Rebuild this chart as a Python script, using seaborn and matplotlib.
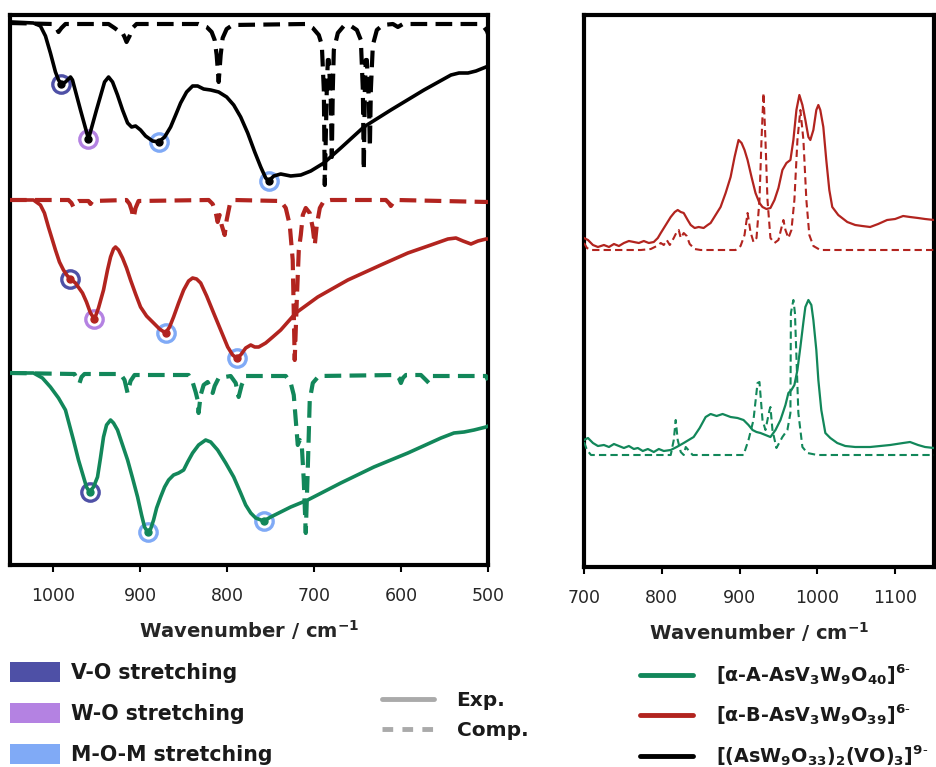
import matplotlib
matplotlib.use("Agg")
import matplotlib.pyplot as plt
from matplotlib.patches import Patch
from matplotlib.lines import Line2D
import seaborn as sns

# ---------------- data ----------------
# IR panel: wavenumber (cm-1) and offset transmittance (arb. units)
ir_black_exp_wn = [1050, 1047.2, 1023, 1015, 1009.2, 1003.5, 997.7, 994.2, 990.8, 986.2, 980.4, 978.1, 968.9,
                   959.7, 950.5, 941.2, 936.6, 932, 926.3, 920.5, 914.7, 910.1, 905.5, 899.8, 894, 885.9, 879,
                   872.1, 865.2, 859.4, 853.7, 846.8, 839.9, 834.1, 827.2, 819.1, 809.9, 800.7, 792.6, 784.6,
                   776.5, 768.4, 761.5, 755.8, 752.3, 746.5, 738.5, 727, 715.4, 703.9, 688.9, 669.4, 642.9,
                   611.8, 573.7, 542.6, 533.4, 523, 513.8, 502.3, 500]
ir_black_exp_t = [543, 543, 542, 539, 529, 512, 493, 485, 481, 483, 488, 485, 455,
                  426, 455, 483, 488, 483, 470, 455, 442, 438, 439, 435, 429, 424, 423,
                  428, 438, 450, 462, 473, 479, 479, 476, 475, 473, 468, 460, 448,
                  432, 413, 398, 387, 384, 389, 391, 389, 390, 394, 402, 417, 438,
                  455, 475, 490, 492, 492, 494, 498, 499]

ir_black_comp_wn = [1050, 1001, 996.5, 994.2, 990.8, 986.2, 936.6, 929.7, 925.1, 921.7, 918.2, 915.9, 912.4,
                    909, 904.4, 833, 823.7, 818, 814.5, 812.2, 809.9, 807.6, 805.3, 800.7, 793.8, 709.7,
                    701.6, 694.7, 691.2, 688.9, 687.8, 685.5, 684.3, 683.2, 680.9, 679.7, 678.6, 677.4, 672.8,
                    666, 657.8, 650.9, 646.3, 644, 642.9, 641.7, 640.6, 639.4, 637.1, 635.9, 634.8, 632.5,
                    627.9, 621, 609.4, 603.7, 597.9, 510.4, 504.6, 501.2, 500]
ir_black_comp_t = [542, 541, 537, 533, 537, 541, 541, 537, 534, 534, 528, 523, 529,
                   537, 541, 541, 538, 533, 525, 510, 483, 510, 527, 536, 540, 541,
                   537, 530, 520, 475, 380, 475, 505, 505, 465, 408, 475, 515, 532,
                   539, 539, 535, 525, 475, 395, 475, 505, 505, 465, 418, 475, 520,
                   535, 540, 541, 538, 541, 541, 538, 534, 531]

ir_red_exp_wn = [1050, 1047.2, 1023, 1015, 1010.4, 1005.8, 1001.2, 997.7, 993.1, 988.5, 983.9, 980.4, 974.7,
                 966.6, 962, 957.4, 952.8, 948.2, 942.4, 937.8, 934.3, 930.9, 928.6, 925.1, 920.5, 915.9,
                 911.3, 905.5, 899.8, 892.9, 884.8, 877.9, 871, 866.4, 861.8, 856, 850.2, 844.5, 839.9,
                 835.3, 830.6, 823.7, 815.7, 807.6, 799.5, 793.8, 789.2, 784.6, 778.8, 773, 768.4, 763.8,
                 755.8, 747.7, 738.5, 721.2, 695.9, 661.3, 623.3, 592.2, 565.7, 546.1, 536.9, 528.8,
                 519.6, 511.5, 502.3, 500]
ir_red_exp_t = [365, 365, 365, 360, 352, 338, 325, 315, 303, 295, 289, 286, 282,
                272, 263, 252, 246, 257, 275, 295, 308, 316, 318, 315, 307, 297,
                285, 271, 258, 249, 242, 236, 232, 238, 248, 262, 275, 284, 287,
                286, 282, 269, 252, 235, 218, 210, 207, 210, 217, 220, 218, 218,
                222, 228, 235, 252, 268, 285, 300, 312, 320, 326, 327, 324,
                321, 324, 326, 326]

ir_red_comp_wn = [1050, 982.7, 979.3, 977, 974.7, 971.2, 959.7, 957.4, 955.1, 915.9, 912.4, 910.1, 907.8,
                  905.5, 902.1, 821.4, 816.8, 813.4, 811.1, 808.8, 806.5, 803, 800.7, 797.2, 792.6, 738.5,
                  732.7, 728.1, 724.7, 722.4, 720.0, 717.7, 715.4, 713.1, 709.7, 705.1, 701.6, 699.3, 697,
                  693.5, 688.9, 680.9, 617.5, 614.1, 611.8, 609.4, 604.8, 500]
ir_red_comp_t = [365, 365, 362, 358, 362, 364, 364, 361, 364, 365, 361, 355, 347,
                 357, 364, 365, 361, 353, 343, 350, 340, 330, 345, 360, 365, 364,
                 357, 340, 305, 205, 265, 315, 330, 350, 357, 352, 337, 320, 340,
                 357, 364, 365, 365, 362, 359, 362, 365, 363]

ir_green_exp_wn = [1050, 1047.2, 1023, 1012.7, 1003.5, 994.2, 986.2, 981.6, 977, 971.2, 965.4, 962, 958.5,
                   953.9, 949.3, 945.9, 942.4, 938.9, 934.3, 930.9, 926.3, 920.5, 914.7, 909, 903.2, 898.6,
                   895.2, 891.7, 888.2, 884.8, 881.3, 876.7, 872.1, 867.5, 861.8, 856, 850.2, 845.6, 839.9,
                   833, 824.9, 819.1, 811.1, 801.8, 792.6, 784.6, 778.8, 773, 767.3, 758.1, 750, 727, 707.4,
                   669.4, 631.3, 592.2, 554.1, 539.2, 527.6, 516.1, 502.3, 500]
ir_green_exp_t = [192, 192, 192, 187, 178, 167, 155, 140, 125, 105, 88, 78, 73,
                  78, 88, 107, 128, 140, 145, 142, 135, 120, 105, 87, 68, 50,
                  38, 33, 36, 45, 57, 68, 78, 85, 90, 92, 95, 103, 112,
                  120, 125, 123, 115, 102, 88, 72, 60, 52, 47, 44, 48, 58, 65,
                  82, 98, 112, 127, 132, 133, 135, 138, 139]

ir_green_comp_wn = [1050, 975.8, 972.4, 970, 967.7, 964.3, 922.8, 918.2, 914.7, 911.3, 906.7, 844.5, 839.9,
                    836.4, 834.1, 833, 830.6, 827.2, 822.6, 819.1, 816.8, 814.5, 809.9, 796.1, 790.3, 786.9,
                    783.4, 778.8, 732.7, 727, 723.5, 721.2, 718.9, 716.6, 714.3, 712, 709.7, 707.4, 705.1,
                    701.6, 694.7, 606, 602.5, 600.2, 597.9, 594.5, 577.2, 571.4, 568, 563.4, 502.3, 500]
ir_green_comp_t = [192, 191, 185, 182, 188, 191, 191, 185, 172, 184, 190, 190, 183,
                   173, 165, 152, 170, 180, 183, 177, 172, 179, 187, 189, 182, 168,
                   180, 189, 189, 182, 170, 145, 120, 125, 120, 85, 32, 95, 165,
                   182, 189, 190, 187, 182, 187, 190, 190, 185, 182, 189, 189, 185]

ir_black_marks_wn = [990.8, 959.7, 879, 752.3]
ir_black_marks_t = [481, 426, 423, 384]
ir_black_marks_mode = ["V-O", "W-O", "M-O-M", "M-O-M"]
ir_red_marks_wn = [980.4, 952.8, 871, 789.2]
ir_red_marks_t = [286, 246, 232, 207]
ir_red_marks_mode = ["V-O", "W-O", "M-O-M", "M-O-M"]
ir_green_marks_wn = [958.5, 891.7, 758.1]
ir_green_marks_t = [73, 33, 44]
ir_green_marks_mode = ["V-O", "M-O-M", "M-O-M"]

# Raman panel
ra_red_exp_wn = [700, 705.1, 711.5, 717.9, 725.6, 732.1, 738.5, 744.9, 751.3, 757.7, 764.1, 770.5, 776.9,
                 783.3, 789.7, 794.9, 798.7, 805.1, 811.5, 816.7, 820.5, 824.4, 828.2, 833.3, 837.2, 842.3,
                 847.4, 853.8, 859, 862.8, 869.2, 875.6, 882.1, 888.5, 893.6, 898.7, 902.6, 906.4, 910.3,
                 915.4, 920.5, 925.6, 929.5, 934.6, 939.7, 944.9, 950, 955.1, 960.3, 965.4, 969.2, 973.1,
                 976.9, 980.8, 984.6, 988.5, 991, 994.9, 998.7, 1001.3, 1003.8, 1007.7, 1011.5, 1015.4,
                 1019.2, 1026.9, 1038.5, 1048.7, 1057.7, 1067.9, 1078.2, 1089.7, 1100, 1110.3, 1119.2,
                 1129.5, 1138.5, 1150]
ra_red_exp_t = [327, 325, 320, 318, 320, 318, 321, 319, 322, 324, 323, 322, 324,
                322, 323, 327, 332, 340, 348, 353, 355, 353, 352, 345, 340, 337,
                338, 337, 340, 342, 350, 358, 372, 388, 408, 425, 422, 415, 405,
                388, 372, 362, 358, 356, 357, 365, 377, 395, 402, 405, 425, 455,
                470, 460, 445, 428, 425, 435, 455, 460, 455, 438, 405, 375,
                358, 350, 343, 340, 339, 338, 341, 345, 346, 349, 348,
                347, 346, 345]

ra_red_comp_wn = [700, 703.8, 709, 773.1, 785.9, 793.6, 798.7, 802.6, 806.4, 810.3, 815.4, 819.2, 821.8,
                  824.4, 828.2, 832.1, 835.9, 842.3, 850, 894.9, 901.3, 906.4, 910.3, 914.1, 917.9, 921.8,
                  925.6, 928.2, 930.8, 933.3, 935.9, 939.7, 944.9, 950, 953.8, 956.4, 959, 962.8, 966.7,
                  970.5, 974.4, 978.2, 982.1, 985.9, 989.7, 994.9, 1003.8, 1150]
ra_red_comp_t = [322, 317, 315, 315, 316, 319, 322, 320, 325, 320, 327, 333, 335,
                 327, 332, 329, 321, 316, 315, 315, 319, 330, 352, 333, 323, 327,
                 365, 425, 472, 425, 365, 327, 322, 325, 337, 345, 335, 327, 335,
                 365, 425, 455, 425, 365, 330, 319, 315, 315]

ra_green_exp_wn = [700, 705.1, 711.5, 717.9, 725.6, 732.1, 738.5, 744.9, 751.3, 757.7, 764.1, 769.2, 775.6,
                   782.1, 789.7, 796.2, 802.6, 811.5, 819.2, 828.2, 834.6, 841, 848.7, 856.4, 862.8, 870.5,
                   878.2, 888.5, 897.4, 905.1, 911.5, 916.7, 921.8, 926.9, 933.3, 939.7, 946.2, 952.6, 959,
                   962.8, 966.7, 970.5, 974.4, 978.2, 982.1, 984.6, 988.5, 992.3, 994.9, 998.7, 1001.3,
                   1005.1, 1010.3, 1016.7, 1025.6, 1035.9, 1048.7, 1067.9, 1080.8, 1093.6, 1110.3, 1119.2,
                   1129.5, 1138.5, 1150]
ra_green_exp_t = [125, 127, 122, 119, 120, 118, 121, 119, 117, 119, 116, 117, 114,
                  116, 113, 116, 114, 115, 118, 122, 125, 128, 137, 148, 151, 149,
                  151, 148, 147, 145, 140, 135, 133, 132, 130, 128, 135, 145, 160,
                  172, 175, 180, 195, 218, 243, 258, 265, 260, 245, 215, 185,
                  155, 132, 127, 122, 119, 118, 118, 119, 120, 122, 123,
                  120, 118, 117]

ra_green_comp_wn = [700, 703.8, 709, 811.5, 815.4, 817.9, 820.5, 824.4, 828.2, 830.8, 839.7, 905.1, 911.5,
                    917.9, 923.1, 925.6, 929.5, 933.3, 938.5, 939.7, 942.3, 947.4, 955.1, 961.5, 965.4, 966.0,
                    969.2, 971.2, 975.6, 980.8, 987.2, 1000, 1150]
ra_green_comp_t = [123, 115, 110, 110, 125, 145, 125, 113, 110, 118, 110, 110, 125,
                   145, 182, 183, 145, 135, 155, 158, 135, 117, 128, 135, 152, 252,
                   265, 252, 152, 118, 112, 110, 110]

ir_ticks = [1000, 900, 800, 700, 600, 500]
ra_ticks = [700, 800, 900, 1000, 1100]

mode_labels = ["V-O stretching", "W-O stretching", "M-O-M stretching"]
series_labels = [r"[α-A-AsV$_3$W$_9$O$_{40}$]$^{6\text{-}}$",
                 r"[α-B-AsV$_3$W$_9$O$_{39}$]$^{6\text{-}}$",
                 r"[(AsW$_9$O$_{33}$)$_2$(VO)$_3$]$^{9\text{-}}$"]

# ---------------- style ----------------
GREEN = "#12875a"
RED = "#b2241f"
BLACK = "#000000"
MODE_COL = {"V-O": "#4e50a6", "W-O": "#b482e2", "M-O-M": "#80aaf6"}

sns.set_theme(style="ticks")
plt.rcParams["font.family"] = ["DejaVu Sans"]
plt.rcParams["mathtext.default"] = "bf"
plt.rcParams["text.color"] = "#1a1a1a"

fig = plt.figure(figsize=(9.37, 7.67), dpi=100)
W, H = 937.0, 767.0
axL = fig.add_axes([10 / W, (H - 565) / H, 478 / W, 550 / H])
axR = fig.add_axes([584 / W, (H - 567) / H, 350 / W, 552 / H])

DASH_L = (0, (4.0, 2.0))
DASH_R = (0, (3.5, 2.0))

def line(ax, x, y, color, lw, ls="-", z=3):
    sns.lineplot(x=x, y=y, ax=ax, color=color, lw=lw, linestyle=ls, sort=False,
                 estimator=None, legend=False, zorder=z)

for (xe, ye, xc, yc, col) in [
        (ir_black_exp_wn, ir_black_exp_t, ir_black_comp_wn, ir_black_comp_t, BLACK),
        (ir_red_exp_wn, ir_red_exp_t, ir_red_comp_wn, ir_red_comp_t, RED),
        (ir_green_exp_wn, ir_green_exp_t, ir_green_comp_wn, ir_green_comp_t, GREEN)]:
    line(axL, xc, yc, col, 3.0, DASH_L, z=3)
    line(axL, xe, ye, col, 2.6, "-", z=4)

for (mx, my, mm, col) in [(ir_black_marks_wn, ir_black_marks_t, ir_black_marks_mode, BLACK),
                          (ir_red_marks_wn, ir_red_marks_t, ir_red_marks_mode, RED),
                          (ir_green_marks_wn, ir_green_marks_t, ir_green_marks_mode, GREEN)]:
    for x, y, m in zip(mx, my, mm):
        axL.plot([x], [y], marker="o", ms=12.5, mfc="white", mec=MODE_COL[m], mew=2.4,
                 ls="none", zorder=3.5)
        axL.plot([x], [y], marker="o", ms=5, mfc=col, mec=col, ls="none", zorder=5)

line(axR, ra_red_comp_wn, ra_red_comp_t, RED, 1.5, DASH_R)
line(axR, ra_red_exp_wn, ra_red_exp_t, RED, 1.6, "-")
line(axR, ra_green_comp_wn, ra_green_comp_t, GREEN, 1.5, DASH_R)
line(axR, ra_green_exp_wn, ra_green_exp_t, GREEN, 1.6, "-")

axL.set_xlim(1050, 500)
axL.set_ylim(0, 550)
axR.set_xlim(700, 1150)
axR.set_ylim(-2, 550)
axL.set_xticks(ir_ticks)
axR.set_xticks(ra_ticks)

for ax in (axL, axR):
    ax.set_yticks([])
    ax.set_ylabel("")
    for s in ax.spines.values():
        s.set_visible(True)
        s.set_linewidth(3.0)
        s.set_color("black")
    ax.tick_params(axis="x", direction="out", length=5, width=1.5, color="black",
                   labelsize=12.5, labelcolor="#262626", pad=11)
    ax.set_xlabel("Wavenumber / cm$^{-1}$", fontsize=14, fontweight="bold", labelpad=9)

# ---------------- legends ----------------
h1 = [Patch(facecolor=MODE_COL[k], edgecolor="none") for k in ["V-O", "W-O", "M-O-M"]]
leg1 = fig.legend(h1, mode_labels, loc="upper left", bbox_to_anchor=(10 / W, 1 - 662 / H),
                  frameon=False, borderpad=0, borderaxespad=0, handlelength=2.45,
                  handleheight=1.12, handletextpad=0.5, labelspacing=0.98,
                  prop={"weight": "bold", "size": 14.8})

h2 = [Line2D([], [], color="#aaaaaa", lw=3.5),
      Line2D([], [], color="#aaaaaa", lw=3.5, linestyle=(0, (2.2, 1.9)))]
leg2 = fig.legend(h2, ["Exp.", "Comp."], loc="upper left", bbox_to_anchor=(382 / W, 1 - 691 / H),
                  frameon=False, borderpad=0, borderaxespad=0, handlelength=2.6,
                  handletextpad=1.1, labelspacing=0.55, prop={"weight": "bold", "size": 14.5})

h3 = [Line2D([], [], color=c, lw=3.5) for c in [GREEN, RED, BLACK]]
leg3 = fig.legend(h3, series_labels, loc="upper left", bbox_to_anchor=(640 / W, 1 - 662 / H),
                  frameon=False, borderpad=0, borderaxespad=0, handlelength=2.75,
                  handletextpad=1.2, labelspacing=0.82, prop={"weight": "bold", "size": 13.8})

fig.savefig("out.png", dpi=100)
